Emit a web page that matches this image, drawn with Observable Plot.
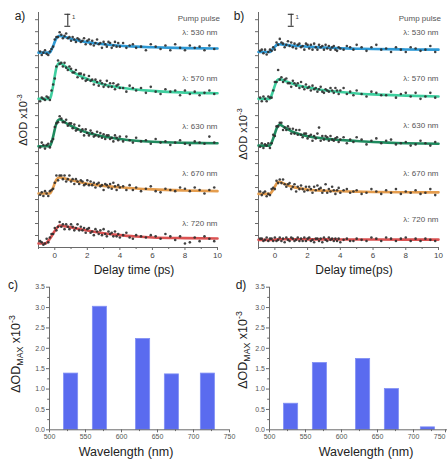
<!DOCTYPE html>
<html><head><meta charset="utf-8">
<script src="https://cdn.jsdelivr.net/npm/d3@7"></script>
<script src="https://cdn.jsdelivr.net/npm/@observablehq/plot@0.6"></script>
<style>
body{margin:0;background:#fff;font-family:"Liberation Sans",Arial,sans-serif;}
#fig{position:relative;width:447px;height:466px;overflow:hidden;background:#fff;}
#fig svg{position:absolute;overflow:visible;}
.lbl{position:absolute;color:#222;white-space:nowrap;transform:translate(-50%,-50%);line-height:1;}
.rot{transform:translate(-50%,-50%) rotate(-90deg);}
sup,sub{font-size:70%;line-height:0;}
</style></head><body><div id="fig"></div>
<script>
// ---- kinetics (panels a, b) ----
const wavelengths = [530, 570, 630, 670, 720];
const traceColors = ["#2e9ad6", "#3fcf9f", "#1f8b5f", "#e59d4e", "#dc5353"];
const delay = [-0.9,-0.8,-0.7,-0.6,-0.5,-0.4,-0.3,-0.2,-0.1,0,0.1,0.2,0.3,0.4,0.5,0.6,0.7,0.8,0.9,1,1.1,1.2,1.3,1.4,1.5,1.6,1.7,1.8,1.9,2,2.1,2.2,2.3,2.4,2.5,2.6,2.7,2.8,2.9,3,3.1,3.2,3.3,3.4,3.5,3.6,3.7,3.8,3.9,4,4.2,4.4,4.6,4.8,5,5.3,5.6,5.9,6.2,6.5,6.8,7.1,7.4,7.7,8,8.3,8.6,8.9,9.2,9.5,9.8];
const fitDelay = [-1,-0.6,-0.3,-0.2,-0.1,0,0.1,0.2,0.3,0.5,0.8,1,1.5,2,2.5,3,4,5,6,8,10];

const offsetA = [16.25, 12.4, 8.45, 4.5, 0.33];
const offsetB = [16.3, 12.4, 8.5, 4.47, 0.64];

const dotsA530 = [0.1,-0.2,0,0.2,-0.1,-0.2,0.1,0.3,0.5,1.1, 1.3,1.3,1.7,1.5,1.2,1.4,1.6,1.2,1.3,1.0, 1.3,1.1,0.9,1.2,1.1,0.9,1.0,1.2,0.7,1.0, 1.1,0.7,1.0,0.6,0.8,1.1,0.7,0.8,0.4,0.9, 0.7,0.5,0.9,0.8,0.4,0.6,0.9,0.5,0.8,0.5, 0.8,0.4,0.6,0.7,0.4,0.5,0.2,0.7,0.5,0.3, 0.6,0.2,0.7,0.4,0.2,0.6,0.4,0.5,0.2,0.6,0.3];
const dotsA570 = [-0.2,0.1,0,-0.1,0.2,0.1,-0.1,0.7,1.2,1.7, 2.7,3.2,2.9,3.0,2.7,3.0,2.6,2.4,2.7,2.5, 2.2,2.2,2.4,1.8,2.1,2.1,1.7,2.0,1.5,1.6, 1.9,1.5,1.6,1.2,1.6,1.4,1.1,1.5,1.3,1.0, 1.2,1.5,1.0,1.3,1.0,1.3,0.8,1.1,1.2,0.9, 0.9,0.6,1.1,0.9,0.7,0.9,0.5,1.0,0.6,0.4, 0.8,0.6,0.7,0.3,0.7,0.4,0.6,0.3,0.5,0.7,0.4];
const dotsA630 = [-0.1,0.3,0.1,-0.2,0.1,0.2,-0.1,0.4,0.6,1.6, 1.9,2.0,2.5,2.3,2.0,2.0,2.2,1.7,1.9,1.9, 1.5,1.8,1.3,1.4,1.7,1.2,1.4,0.9,1.4,1.1, 0.9,1.3,1.1,0.8,0.9,1.2,0.8,1.1,0.7,1.0, 0.6,0.9,0.9,0.6,0.7,0.4,0.9,0.7,0.5,0.8, 0.4,0.8,0.5,0.3,0.7,0.4,0.5,0.2,0.6,0.3, 0.4,0.1,0.3,0.5,0.2,0.1,0.4,0.3,0.2,0.8,0.3];
const dotsA670 = [-0.1,0.1,-0.2,0.2,0,-0.2,0.2,0.3,0.4,0.9, 1.5,1.1,1.5,1.5,1.2,1.5,1.0,1.2,1.5,1.0, 1.2,0.8,1.2,1.0,0.8,1.1,1.0,0.7,0.8,1.1, 0.7,1.0,0.7,0.9,0.5,0.8,0.9,0.6,0.7,0.3, 0.8,0.7,0.5,0.8,0.4,0.9,0.6,0.3,0.7,0.5, 0.6,0.3,0.7,0.3,0.5,0.2,0.4,0.6,0.2,0.1, 0.4,0.3,0.2,0.5,0.4,0.2,0.5,0.3,0,0.3,0.5];
const dotsA720 = [0.2,0.1,-0.1,0,0.4,0.1,0.5,0.8,0.8,1.3, 1.1,1.4,1.8,1.4,1.6,1.2,1.6,1.4,1.2,1.6, 1.4,1.1,1.3,1.6,1.1,1.4,1.1,1.3,0.9,1.2, 1.3,0.9,1.0,0.7,1.2,1.0,0.8,1.1,0.7,1.2, 0.8,0.6,1.0,0.8,0.9,0.6,1.0,0.6,0.8,0.5, 0.7,0.9,0.5,0.4,0.7,0.6,0.5,0.7,0.6,0.4, 0.8,0.6,0.3,0.6,0.0,0.1,0.5,0.2,0.6,0.4,0.2];

const dotsB530 = [0.1,0.2,-0.1,0.2,-0.2,0,0.2,0.1,0.4,0.2, 0.8,0.6,1.1,0.8,0.7,0.4,0.6,0.9,0.5,0.8, 0.4,0.7,0.3,0.6,0.7,0.4,0.5,0.2,0.7,0.6, 0.3,0.6,0.2,0.7,0.4,0.2,0.6,0.4,0.5,0.2, 0.6,0.3,0.5,0.2,0.4,0.5,0.2,0.1,0.4,0.3, 0.2,0.5,0.4,0.2,0.6,0.4,0.1,0.4,0.6,0.2, 0.3,0.0,0.4,0.2,0.0,0.4,0.3,0.1,0.2,0.5,0.0];
const dotsB570 = [0.1,-0.2,0.2,0,-0.2,0.2,0.1,0.1,0.7,1.4, 1.4,2.4,1.6,1.8,1.4,1.6,1.7,1.3,1.3,1.0, 1.5,1.3,1.1,1.3,0.9,1.4,1.0,0.8,1.2,0.9, 1.0,0.7,1.1,0.8,0.9,0.6,0.8,1.0,0.6,0.5, 0.8,0.7,0.6,0.9,0.7,0.5,0.9,0.7,0.4,0.7, 0.9,0.4,0.6,0.3,0.7,0.4,0.2,0.6,0.5,0.3, 0.3,0.6,0.1,0.4,0.5,0.2,0.5,0.0,0.2,0.5,0.1];
const dotsB630 = [-0.1,0.2,-0.2,0.1,0,0.2,-0.2,0.2,0.9,0.8, 1.6,1.6,1.9,1.9,1.3,1.5,1.3,1.6,1.4,1.0, 1.4,1.0,1.3,0.9,1.3,0.9,0.7,1.0,1.0,0.6, 0.8,0.9,0.4,0.8,0.6,1.0,1.5,0.4,0.8,0.5, 0.8,0.7,0.4,0.8,0.5,0.4,0.6,0.7,0.3,0.5, 0.7,0.2,0.5,0.3,0.7,0.5,0.1,0.4,0.6,0.2, 0.4,0.5,0.1,0.2,0.3,0.0,0.1,0.4,0.2,0.0,0.3];
const dotsB670 = [0.2,-0.1,0.1,0.2,-0.2,0,-0.1,0.4,0.5,0.4, 1.1,0.9,1.2,0.9,1.2,0.8,0.6,0.8,0.9,0.4, 0.6,0.8,0.2,0.6,0.4,0.7,0.4,0.2,0.6,0.3, 0.6,0.4,0.1,0.6,0.3,0.7,0.4,0.5,0.1,0.3, 0.8,0.1,0.4,0.2,0.6,0.3,0.0,0.3,0.5,0.1, 0.3,0.4,0.1,0.2,0.3,0.0,0.1,0.4,0.2,0.0, 0.3,0.1,0.4,0.0,0.2,0.1,0.3,0.0,0.1,0.4,-0.1];
const dotsB720 = [0.1,0.1,-0.1,0,0.2,-0.1,0.1,0.1,-0.1,0.2, -0.1,0,0.2,-0.1,0.1,-0.2,0.2,0,-0.1,0.2, 0.1,-0.1,0,0.2,-0.1,0.1,-0.1,0.2,-0.1,0.1, 0.2,-0.1,0,-0.2,0.1,0.1,-0.1,0.1,-0.2,0.2, 0,-0.1,0.2,0,0.1,-0.1,0.1,-0.1,0.1,-0.2, 0,0.1,-0.1,-0.1,0.1,0,-0.1,0.2,0.1,-0.1, 0.2,0.1,-0.1,0.1,0.2,-0.1,0.1,-0.1,0.1,0,-0.1];

const fitA530 = [0,0,0,0.25,0.55,0.9,1.2,1.35,1.4,1.35,1.25,1.15,1.0,0.88,0.78,0.7,0.58,0.5,0.45,0.38,0.35];
const fitA570 = [0,0,0,0.4,1.1,1.9,2.6,2.9,3.0,2.85,2.55,2.35,1.95,1.65,1.4,1.2,0.95,0.78,0.66,0.52,0.47];
const fitA630 = [0,0,0,0.3,0.8,1.4,1.9,2.15,2.25,2.1,1.85,1.7,1.38,1.12,0.95,0.8,0.6,0.46,0.37,0.28,0.24];
const fitA670 = [0,0,0,0.2,0.5,0.85,1.15,1.3,1.35,1.3,1.2,1.12,0.96,0.82,0.72,0.64,0.52,0.42,0.35,0.26,0.2];
const fitA720 = [0,0,0.4,0.6,0.85,1.05,1.25,1.4,1.5,1.47,1.4,1.35,1.22,1.08,0.96,0.86,0.7,0.59,0.51,0.45,0.42];
const fitB530 = [0,0,0,0.15,0.3,0.45,0.58,0.64,0.65,0.62,0.58,0.55,0.5,0.45,0.41,0.38,0.32,0.28,0.25,0.22,0.2];
const fitB570 = [0,0,0,0.3,0.7,1.1,1.45,1.6,1.65,1.55,1.4,1.3,1.1,0.95,0.83,0.72,0.57,0.45,0.37,0.27,0.2];
const fitB630 = [0,0,0,0.25,0.6,1.0,1.4,1.65,1.75,1.6,1.35,1.2,0.95,0.78,0.67,0.58,0.47,0.38,0.3,0.2,0.15];
const fitB670 = [0,0,0,0.15,0.35,0.6,0.85,1.0,1.02,0.9,0.72,0.62,0.46,0.36,0.3,0.27,0.22,0.19,0.16,0.14,0.13];
const fitB720 = [0,0,0,0,0,0.02,0.03,0.04,0.05,0.05,0.05,0.05,0.05,0.04,0.04,0.04,0.03,0.03,0.03,0.02,0.02];

const delayTicks = [0, 2, 4, 6, 8, 10];
const delayMinor = [-1, 1, 3, 5, 7, 9];
const odTicks = [1,2,3,4,5,6,7,8,9,10,11,12,13,14,15,16,17,18,19];
const scaleBarA = {t: 0.8, base: 18.45, size: 1};
const scaleBarB = {t: 1.0, base: 18.45, size: 1};

// ---- ΔOD max (panels c, d) ----
const barWavelengths = [530, 570, 630, 670, 720];
const odMaxC = [1.38, 3.02, 2.23, 1.36, 1.38];
const odMaxD = [0.64, 1.64, 1.74, 1.0, 0.06];
const wlTicks = [500, 550, 600, 650, 700, 750];
const wlMinor = [525, 575, 625, 675, 725];
const odMaxTicks = [0, 0.5, 1.0, 1.5, 2.0, 2.5, 3.0, 3.5];
const odMaxMinor = [0.25, 0.75, 1.25, 1.75, 2.25, 2.75, 3.25];

const fig = document.getElementById("fig");
const FONT = "Liberation Sans, Arial, sans-serif";
const AX = "#6a6a6a";

function kinetics(dots, fits, offsets, bar, left, marginRight) {
  const dotRows = [], fitRows = [];
  wavelengths.forEach((wl, i) => {
    delay.forEach((t, j) => dotRows.push({wl, t, v: offsets[i] + dots[i][j]}));
    fitDelay.forEach((t, j) => fitRows.push({wl, t, v: offsets[i] + fits[i][j]}));
  });
  const labels = wavelengths.map((wl, i) => ({t: 10, v: offsets[i], text: `λ: ${wl} nm`}));
  const svg = Plot.plot({
    width: 230, height: 262, marginLeft: 38, marginRight, marginTop: 12, marginBottom: 15,
    style: {fontFamily: FONT, background: "transparent", color: "#444"},
    x: {domain: [-1, 10], axis: null},
    y: {domain: [0, 19.6], axis: null},
    color: {domain: wavelengths, range: traceColors},
    marks: [
      Plot.axisY({ticks: odTicks, tickSize: 3, tickFormat: () => "", label: null, stroke: AX}),
      Plot.axisX({ticks: delayTicks, tickSize: 3, tickPadding: 2, fontSize: 8, label: null, stroke: AX, fill: "#444"}),
      Plot.axisX({ticks: delayMinor, tickSize: 2, tickFormat: () => "", label: null, stroke: AX}),
      Plot.ruleX([-1], {stroke: AX}),
      Plot.ruleY([0], {stroke: AX}),
      Plot.line(fitRows, {x: "t", y: "v", z: "wl", stroke: "wl", strokeWidth: 2.6, curve: "monotone-x"}),
      Plot.dot(dotRows, {x: "t", y: "v", r: 1.3, fill: "#2c2c2c", fillOpacity: 0.9, stroke: null}),
      Plot.text(labels, {x: "t", y: "v", text: "text", dy: -20, textAnchor: "end", fontSize: 8, fill: "#555"}),
      Plot.text([{t: 10.15, v: offsets[0]}], {x: "t", y: "v", text: () => "Pump pulse", dy: -34, textAnchor: "end", fontSize: 8, fill: "#555"}),
      Plot.ruleX([bar], {x: "t", y1: "base", y2: d => d.base + d.size, stroke: "#333", strokeWidth: 1.1}),
      Plot.ruleY([bar.base, bar.base + bar.size], {y: d => d, x1: bar.t - 0.18, x2: bar.t + 0.18, stroke: "#333", strokeWidth: 1.1}),
      Plot.text([bar], {x: "t", y: d => d.base + d.size * 0.75, text: () => "1", dx: 6, fontSize: 6, fill: "#444"})
    ]
  });
  svg.style.left = left + "px";
  svg.style.top = "0px";
  fig.appendChild(svg);
}

function barsPanel(values, left, clipLast) {
  const rows = barWavelengths.map((wl, i) => ({wl, v: values[i]}));
  const mainTicks = clipLast ? wlTicks.slice(0, -1) : wlTicks;
  const marks = [
    Plot.rectY(rows, {x1: d => d.wl - 9.8, x2: d => d.wl + 9.8, y: "v", fill: "#5a6bef", stroke: "#8190f4", strokeWidth: 0.8}),
    Plot.axisY({ticks: odMaxTicks, tickSize: 3, tickPadding: 1.5, fontSize: 7, tickFormat: d3.format(".1f"), label: null, stroke: AX, fill: "#555"}),
    Plot.axisY({ticks: odMaxMinor, tickSize: 1.8, tickFormat: () => "", label: null, stroke: AX}),
    Plot.axisX({ticks: mainTicks, tickSize: 3, tickPadding: 1.5, fontSize: 7, label: null, stroke: AX, fill: "#555"}),
    Plot.axisX({ticks: wlMinor, tickSize: 1.8, tickFormat: () => "", label: null, stroke: AX}),
    Plot.ruleX([500], {stroke: AX}),
    Plot.ruleY([0], {stroke: AX})
  ];
  if (clipLast) {
    marks.push(Plot.axisX({ticks: wlTicks.slice(-1), tickSize: 3, tickPadding: 1.5, fontSize: 7, label: null, stroke: AX, fill: "#555", textAnchor: "end", dx: -4}));
  }
  const svg = Plot.plot({
    width: 232, height: 180, marginLeft: 49, marginRight: 3, marginTop: 16.7, marginBottom: 20.7,
    style: {fontFamily: FONT, background: "transparent", color: "#444"},
    x: {domain: [500, 750], axis: null},
    y: {domain: [0, 3.5], axis: null},
    marks
  });
  svg.style.left = left + "px";
  svg.style.top = "270px";
  fig.appendChild(svg);
}

kinetics([dotsA530, dotsA570, dotsA630, dotsA670, dotsA720], [fitA530, fitA570, fitA630, fitA670, fitA720], offsetA, scaleBarA, 0, 13);
kinetics([dotsB530, dotsB570, dotsB630, dotsB670, dotsB720], [fitB530, fitB570, fitB630, fitB670, fitB720], offsetB, scaleBarB, 220, 12);
barsPanel(odMaxC, 0, false);
barsPanel(odMaxD, 220, true);

function label(html, x, y, size, rot) {
  const d = document.createElement("div");
  d.className = "lbl" + (rot ? " rot" : "");
  d.style.left = x + "px";
  d.style.top = y + "px";
  d.style.fontSize = size + "px";
  d.innerHTML = html;
  fig.appendChild(d);
}
label("a)", 20, 16, 12);
label("b)", 239, 16, 12);
label("c)", 13, 285, 12);
label("d)", 241, 285, 12);
label("Delay time (ps)", 134, 270, 12);
label("Delay time(ps)", 354, 270, 12);
label("Wavelength (nm)", 126, 452, 12.5);
label("Wavelength (nm)", 366, 452, 12.5);
label("ΔOD x10<sup>-3</sup>", 23, 120, 11, true);
label("ΔOD x10<sup>-3</sup>", 243, 134, 11, true);
label("ΔOD<sub>MAX</sub> x10<sup>-3</sup>", 16, 354, 12.5, true);
label("ΔOD<sub>MAX</sub> x10<sup>-3</sup>", 243, 350, 12.5, true);
</script></body></html>
